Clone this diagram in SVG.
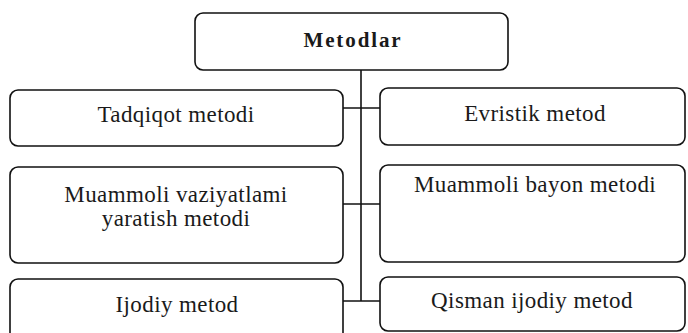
<svg xmlns="http://www.w3.org/2000/svg" width="688" height="333" viewBox="0 0 688 333">
<style>
.box{fill:#fff;stroke:#111;stroke-width:1.6}
.t{font-family:"Liberation Serif","Times New Roman",serif;font-size:23px;fill:#1a1a1a;text-anchor:middle;letter-spacing:0.4px}
.b{font-weight:bold;font-size:21px;letter-spacing:1.9px}
.c{stroke:#111;stroke-width:1.6;fill:none}
</style>
<rect width="688" height="333" fill="#fff"/>
<g id="connectors">
<line class="c" x1="361" y1="70" x2="361" y2="301"/>
<line class="c" x1="343" y1="108" x2="380" y2="108"/>
<line class="c" x1="343" y1="204" x2="380" y2="204"/>
<line class="c" x1="343" y1="301" x2="380" y2="301"/>
</g>
<g id="metodlar">
<rect class="box" x="195" y="13" width="313" height="57" rx="8"/>
<text class="t b" x="353" y="47">Metodlar</text>
</g>
<g id="tadqiqot">
<rect class="box" x="10" y="90" width="333" height="56" rx="8"/>
<text class="t" x="176" y="122">Tadqiqot metodi</text>
</g>
<g id="muammoli-vaziyat">
<rect class="box" x="10" y="167" width="333" height="96" rx="8"/>
<text class="t" x="176" y="202">Muammoli vaziyatlami</text>
<text class="t" x="176" y="226">yaratish metodi</text>
</g>
<g id="ijodiy">
<rect class="box" x="10" y="279" width="333" height="62" rx="8"/>
<text class="t" x="177" y="312">Ijodiy metod</text>
</g>
<g id="evristik">
<rect class="box" x="380" y="88" width="305" height="57" rx="8"/>
<text class="t" x="535" y="121">Evristik metod</text>
</g>
<g id="muammoli-bayon">
<rect class="box" x="380" y="165" width="305" height="97" rx="8"/>
<text class="t" x="535" y="192">Muammoli bayon metodi</text>
</g>
<g id="qisman">
<rect class="box" x="380" y="277" width="305" height="54" rx="8"/>
<text class="t" x="532" y="308">Qisman ijodiy metod</text>
</g>
</svg>
